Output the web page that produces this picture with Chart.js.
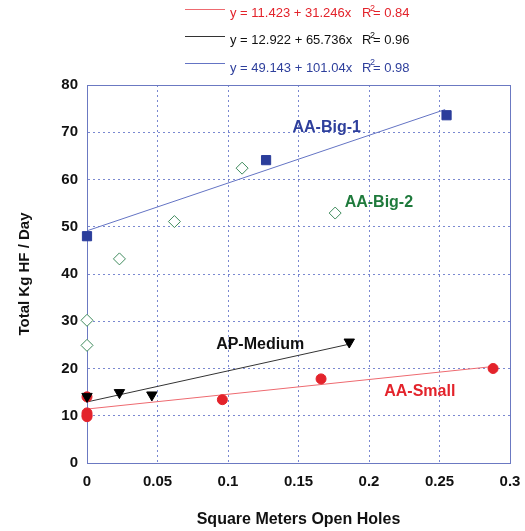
<!DOCTYPE html>
<html>
<head>
<meta charset="utf-8">
<script src="https://cdn.jsdelivr.net/npm/chart.js@4/dist/chart.umd.min.js"></script>
<style>
html,body{margin:0;padding:0;background:#fff;}
#wrap{width:525px;height:531px;}
</style>
</head>
<body>
<div id="wrap"><canvas id="c" width="525" height="531"></canvas></div>
<script>
// ---- data ----
const big1X = [0, 0.127, 0.255];
const big1Y = [48.0, 64.1, 73.6];
const big2X = [0, 0, 0.023, 0.062, 0.110, 0.176];
const big2Y = [30.2, 24.9, 43.2, 51.1, 62.4, 52.9];
const medX = [0, 0.023, 0.046, 0.186];
const medY = [14.1, 14.9, 14.4, 25.6];
const smallX = [0, 0, 0, 0, 0.096, 0.166, 0.288];
const smallY = [14.0, 10.6, 10.1, 9.8, 13.4, 17.8, 20.0];

// fitted lines (from printed equations), start/end
const fitNames = ['AA-Small', 'AP-Medium', 'AA-Big-1'];
const fitX0 = [0, 0, 0];
const fitX1 = [0.288, 0.186, 0.254];
const fitY0 = [11.42, 12.92, 49.14];
const fitY1 = [20.42, 25.15, 74.81];
const fitEq = ['y = 11.423 + 31.246x', 'y = 12.922 + 65.736x', 'y = 49.143 + 101.04x'];
const fitR2 = ['0.84', '0.96', '0.98'];

const xTickLabels = ['0', '0.05', '0.1', '0.15', '0.2', '0.25', '0.3'];
const yTickLabels = ['0', '10', '20', '30', '40', '50', '60', '70', '80'];

const seriesLabels = ['AA-Big-1', 'AA-Big-2', 'AP-Medium', 'AA-Small'];
const labelX = [0.170, 0.207, 0.1228, 0.236];
const labelY = [70.9, 55.2, 25.0, 15.1];

// ---- styles ----
const RED = '#e3232b', RED_LINE = '#ee6a70';
const BLK = '#000000', BLK_LINE = '#333333';
const BLUE = '#2b3d9b', BLUE_LINE = '#6474c4', BLUE_TXT = '#2e3f9c';
const GREEN = '#3e8a5c', GREEN_TXT = '#1f7a3c';
const FIT_COLORS = [RED_LINE, BLK_LINE, BLUE_LINE];
const EQ_COLORS = [RED, '#111111', BLUE_TXT];
const LABEL_COLORS = [BLUE_TXT, GREEN_TXT, '#111111', RED];
const FONT = '"Liberation Sans", Arial, Helvetica, sans-serif';
const GRID = '#7a88d0';
const FRAME = '#6b79c2';

function pts(xs, ys) { return xs.map((x, i) => ({x: x, y: ys[i]})); }

const datasets = [];
for (let i = 0; i < fitNames.length; i++) {
  datasets.push({
    label: fitNames[i] + ' fit',
    data: [{x: fitX0[i], y: fitY0[i]}, {x: fitX1[i], y: fitY1[i]}],
    showLine: true, borderColor: FIT_COLORS[i], borderWidth: 1,
    pointRadius: 0, fill: false, order: 5, clip: false
  });
}
datasets.push({label: 'AA-Big-2', data: pts(big2X, big2Y), pointStyle: 'rectRot', pointRadius: 6,
  backgroundColor: '#ffffff', borderColor: GREEN, borderWidth: 1, showLine: false, order: 1, clip: false});
datasets.push({label: 'AA-Small', data: pts(smallX, smallY), pointStyle: 'circle', pointRadius: 5,
  backgroundColor: RED, borderColor: RED, borderWidth: 1, showLine: false, order: 2, clip: false});
datasets.push({label: 'AP-Medium', data: pts(medX, medY), pointStyle: 'triangle', rotation: 180, pointRadius: 6,
  backgroundColor: BLK, borderColor: BLK, borderWidth: 1, showLine: false, order: 1, clip: false});
datasets.push({label: 'AA-Big-1', data: pts(big1X, big1Y), pointStyle: 'rect', pointRadius: 6.5,
  backgroundColor: BLUE, borderColor: BLUE, borderWidth: 1, showLine: false, order: 1, clip: false});

const decor = {
  id: 'decor',
  beforeDatasetsDraw(chart) {
    const {ctx, chartArea: a} = chart;
    ctx.save();
    ctx.strokeStyle = FRAME; ctx.lineWidth = 1;
    ctx.strokeRect(Math.round(a.left) + 0.5, Math.round(a.top) + 0.5,
      Math.round(a.right - a.left), Math.round(a.bottom - a.top));
    ctx.restore();
  },
  afterDraw(chart) {
    const {ctx} = chart;
    const xs = chart.scales.x, ys = chart.scales.y;
    ctx.save();
    // series labels
    ctx.font = 'bold 16px ' + FONT;
    ctx.textAlign = 'center'; ctx.textBaseline = 'middle';
    for (let i = 0; i < seriesLabels.length; i++) {
      ctx.fillStyle = LABEL_COLORS[i];
      ctx.fillText(seriesLabels[i], xs.getPixelForValue(labelX[i]), ys.getPixelForValue(labelY[i]));
    }
    // equation legend
    const lineY = [9, 36, 63];
    const textY = [13.5, 40.5, 68];
    for (let i = 0; i < fitEq.length; i++) {
      ctx.strokeStyle = FIT_COLORS[i]; ctx.lineWidth = 1;
      ctx.beginPath(); ctx.moveTo(185, lineY[i] + 0.5); ctx.lineTo(225, lineY[i] + 0.5); ctx.stroke();
      ctx.fillStyle = EQ_COLORS[i];
      ctx.textAlign = 'left'; ctx.textBaseline = 'middle';
      ctx.font = '13px ' + FONT;
      ctx.fillText(fitEq[i], 230, textY[i]);
      ctx.fillText('R', 362, textY[i]);
      ctx.font = '9px ' + FONT;
      ctx.fillText('2', 370, textY[i] - 5);
      ctx.font = '13px ' + FONT;
      ctx.fillText('= ' + fitR2[i], 373, textY[i]);
    }
    ctx.restore();
  }
};

new Chart(document.getElementById('c'), {
  type: 'scatter',
  data: {datasets: datasets},
  options: {
    responsive: false,
    devicePixelRatio: 1,
    animation: false,
    layout: {padding: {top: 85, right: 15, left: 10, bottom: 0}},
    plugins: {legend: {display: false}, tooltip: {enabled: false}},
    scales: {
      x: {
        type: 'linear', min: 0, max: 0.3,
        afterFit(s) { s.height = 68; s.paddingRight = 0; s.paddingLeft = 0; },
        ticks: {stepSize: 0.05, padding: 10, color: '#111', font: {family: FONT, size: 15, weight: 'bold'},
          callback: (v, i) => xTickLabels[i]},
        grid: {color: GRID, lineWidth: 1, drawTicks: false},
        border: {display: true, color: FRAME, dash: [2, 3]},
        title: {display: true, text: 'Square Meters Open Holes', color: '#111',
          font: {family: FONT, size: 16, weight: 'bold'}, padding: {top: 4, bottom: 2}}
      },
      y: {
        type: 'linear', min: 0, max: 80,
        afterFit(s) { s.width = 77; s.paddingTop = 0; s.paddingBottom = 0; },
        ticks: {stepSize: 10, padding: 9, color: '#111', font: {family: FONT, size: 15, weight: 'bold'},
          callback: (v, i) => yTickLabels[i]},
        grid: {color: GRID, lineWidth: 1, drawTicks: false},
        border: {display: true, color: FRAME, dash: [2, 3]},
        title: {display: true, text: 'Total Kg HF / Day', color: '#111',
          font: {family: FONT, size: 15, weight: 'bold'}, padding: {top: 6, bottom: 4}}
      }
    }
  },
  plugins: [decor]
});
</script>
</body>
</html>
